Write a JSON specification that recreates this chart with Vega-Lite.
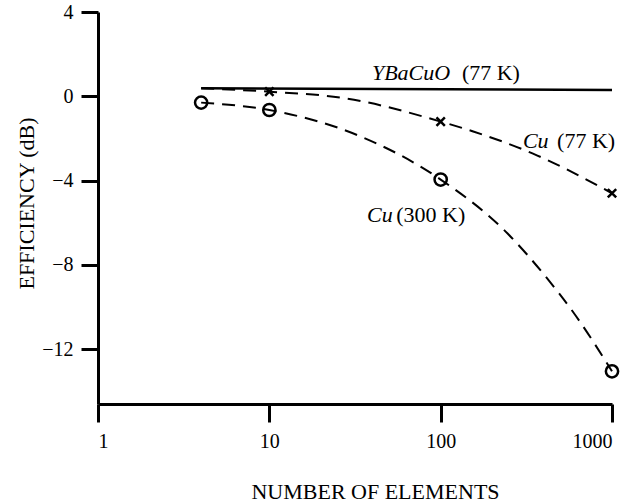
{
  "$schema": "https://vega.github.io/schema/vega-lite/v6.json",
  "width": 514,
  "height": 392,
  "autosize": {"type": "none"},
  "padding": {"left": 98, "top": 12, "right": 32, "bottom": 100},
  "background": "white",
  "config": {
    "view": {"stroke": null},
    "font": "Liberation Serif",
    "axis": {
      "domainColor": "black",
      "domainWidth": 3,
      "tickColor": "black",
      "tickWidth": 3,
      "grid": false,
      "labelFont": "Liberation Serif",
      "labelFontSize": 20,
      "labelColor": "black",
      "titleFont": "Liberation Serif",
      "titleFontSize": 22,
      "titleFontWeight": "normal",
      "titleColor": "black"
    }
  },
  "datasets": {
    "ybco": [
      {"n": 4, "v": 0.38},
      {"n": 1000, "v": 0.3}
    ],
    "cu77": [
      {"n": 4, "v": 0.38, "m": false},
      {"n": 10, "v": 0.22, "m": true},
      {"n": 28, "v": -0.1, "m": false},
      {"n": 100, "v": -1.2, "m": true},
      {"n": 155, "v": -1.67, "m": false},
      {"n": 346, "v": -2.72, "m": false},
      {"n": 1000, "v": -4.6, "m": true}
    ],
    "cu300": [
      {"n": 4, "v": -0.3, "m": true},
      {"n": 10, "v": -0.65, "m": true},
      {"n": 34, "v": -1.9, "m": false},
      {"n": 100, "v": -3.95, "m": true},
      {"n": 245, "v": -6.5, "m": false},
      {"n": 405, "v": -8.5, "m": false},
      {"n": 613, "v": -10.4, "m": false},
      {"n": 1000, "v": -13.05, "m": true}
    ],
    "labels": [
      {"n": 39.7, "v": 0.77, "t": "YBaCuO", "it": true},
      {"n": 133, "v": 0.77, "t": "(77 K)", "it": false},
      {"n": 302, "v": -2.45, "t": "Cu", "it": true},
      {"n": 478, "v": -2.45, "t": "(77 K)", "it": false},
      {"n": 37.2, "v": -5.97, "t": "Cu", "it": true},
      {"n": 55, "v": -5.97, "t": "(300 K)", "it": false}
    ]
  },
  "encoding": {
    "x": {
      "field": "n",
      "type": "quantitative",
      "scale": {"type": "log", "domain": [1, 1000], "nice": false},
      "axis": {
        "values": [1, 10, 100, 1000],
        "format": "d",
        "tickSize": 18,
        "labelPadding": 9,
        "title": "NUMBER OF ELEMENTS",
        "titleX": 277,
        "titleY": 94,
        "titleAlign": "center",
        "titleBaseline": "alphabetic"
      }
    },
    "y": {
      "field": "v",
      "type": "quantitative",
      "scale": {"domain": [-14.6, 4], "nice": false, "zero": false},
      "axis": {
        "values": [4, 0, -4, -8, -12],
        "format": "d",
        "tickSize": 17,
        "labelPadding": 8,
        "title": "EFFICIENCY (dB)",
        "titleAngle": -90,
        "titleX": -65,
        "titleY": 191,
        "titleAlign": "center",
        "titleBaseline": "alphabetic"
      }
    }
  },
  "layer": [
    {
      "data": {"name": "ybco"},
      "mark": {"type": "line", "color": "black", "strokeWidth": 2.5}
    },
    {
      "data": {"name": "cu77"},
      "mark": {"type": "line", "color": "black", "strokeWidth": 2, "strokeDash": [13, 8], "interpolate": "monotone"}
    },
    {
      "data": {"name": "cu300"},
      "mark": {"type": "line", "color": "black", "strokeWidth": 2, "strokeDash": [13, 8], "interpolate": "monotone"}
    },
    {
      "data": {"name": "cu77"},
      "transform": [{"filter": "datum.m"}],
      "mark": {"type": "point", "shape": "M-1,-1L1,1M-1,1L1,-1", "filled": false, "color": "black", "strokeWidth": 2.5, "size": 70, "opacity": 1}
    },
    {
      "data": {"name": "cu300"},
      "transform": [{"filter": "datum.m"}],
      "mark": {"type": "point", "shape": "circle", "filled": false, "color": "black", "strokeWidth": 2.5, "size": 150, "opacity": 1}
    },
    {
      "data": {"name": "labels"},
      "transform": [{"filter": "datum.it"}],
      "mark": {"type": "text", "align": "left", "baseline": "alphabetic", "font": "Liberation Serif", "fontSize": 22, "fontStyle": "italic", "color": "black"},
      "encoding": {"text": {"field": "t"}}
    },
    {
      "data": {"name": "labels"},
      "transform": [{"filter": "!datum.it"}],
      "mark": {"type": "text", "align": "left", "baseline": "alphabetic", "font": "Liberation Serif", "fontSize": 22, "color": "black"},
      "encoding": {"text": {"field": "t"}}
    }
  ]
}
